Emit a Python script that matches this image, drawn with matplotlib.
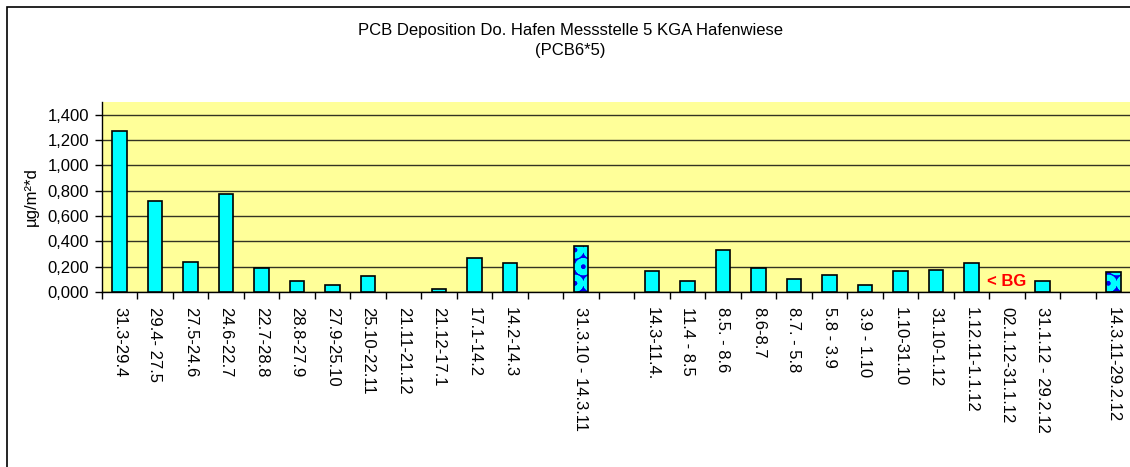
import matplotlib
matplotlib.use("Agg")
import matplotlib.pyplot as plt
from matplotlib.patches import Rectangle
import numpy as np

plt.rcParams['font.family'] = ['Liberation Sans', 'DejaVu Sans']
plt.rcParams['hatch.linewidth'] = 4.0

categories = ["31.3-29.4", "29.4- 27.5", "27.5-24.6", "24.6-22.7", "22.7-28.8",
              "28.8-27.9", "27.9-25.10", "25.10-22.11", "21.11-21.12", "21.12-17.1",
              "17.1-14.2", "14.2-14.3", "", "31.3.10 - 14.3.11", "",
              "14.3-11.4.", "11.4 - 8.5", "8.5. - 8.6", "8.6-8.7", "8.7. - 5.8",
              "5.8 - 3.9", "3.9 - 1.10", "1.10-31.10", "31.10-1.12", "1.12.11-1.1.12",
              "02.1.12-31.1.12", "31.1.12 - 29.2.12", "", "14.3.11-29.2.12"]
values = [1.268, 0.718, 0.238, 0.771, 0.190,
          0.089, 0.058, 0.124, 0.0, 0.025,
          0.268, 0.228, np.nan, 0.362, np.nan,
          0.165, 0.087, 0.335, 0.190, 0.100,
          0.134, 0.057, 0.165, 0.173, 0.226,
          0.0, 0.089, np.nan, 0.155]
# annual summary bars (patterned)
patterned = [13, 28]
bg_index = 25
bg_label = "< BG"
bg_value = 0.085

title_line1 = "PCB Deposition Do. Hafen Messstelle 5 KGA Hafenwiese"
title_line2 = "(PCB6*5)"
ylabel = "µg/m²*d"
yticks = [0.0, 0.2, 0.4, 0.6, 0.8, 1.0, 1.2, 1.4]

W, H = 1130, 467
fig = plt.figure(figsize=(W / 100, H / 100), dpi=100)
fig.patch.set_facecolor('white')

# outer chart frame (clipped at right/bottom in the reference)
fig.patches.append(Rectangle((7 / W, -0.2), 1.5, 1.2 - 7 / H, transform=fig.transFigure,
                             fill=False, edgecolor='black', linewidth=1.2, zorder=0))

ax = fig.add_axes([101.7 / W, (H - 292) / H, 1.0 - 101.7 / W + 0.001, 190 / H])
ax.set_facecolor('#FFFF99')

x = np.arange(len(categories))
vals = np.array(values, dtype=float)
drawn = [i for i in range(len(vals)) if not np.isnan(vals[i]) and vals[i] > 0]
normal = [i for i in drawn if i not in patterned]
pat = [i for i in drawn if i in patterned]
ax.bar(x[normal], vals[normal], width=0.41, color='#00FFFF', edgecolor='black',
       linewidth=1.2, zorder=3)
ax.bar(x[pat], vals[pat], width=0.41, color='#0000EE', edgecolor='#00FFFF',
       hatch='O', linewidth=0, zorder=3)
ax.bar(x[pat], vals[pat], width=0.41, fill=False, edgecolor='black',
       linewidth=1.2, zorder=4)

ax.text(bg_index, bg_value, bg_label, color='#FF0000', fontsize=12, fontweight='bold',
        ha='center', va='center', zorder=5)

ax.set_xlim(-0.5, len(categories) - 0.5)
ax.set_ylim(0, 1.5)
ax.set_yticks(yticks)
ax.set_yticklabels([f"{v:.3f}".replace('.', ',') for v in yticks], fontsize=12)
ax.yaxis.grid(True, color='#333322', linewidth=1.0, zorder=1)
ax.set_axisbelow(True)

ax.set_xticks(np.arange(len(categories) + 1) - 0.5)
ax.set_xticklabels([])
ax.set_xticks(x, minor=True)
ax.set_xticklabels(categories, minor=True, rotation=-90, fontsize=12, va='top', ha='center')
ax.tick_params(axis='x', which='major', length=5, width=1, color='black', direction='out')
ax.tick_params(axis='x', which='minor', length=0, pad=11)
ax.tick_params(axis='y', length=5, width=1, color='black', pad=4)

for s in ['top', 'right']:
    ax.spines[s].set_visible(False)
for s in ['left', 'bottom']:
    ax.spines[s].set_color('black')
    ax.spines[s].set_linewidth(1.0)

ax.set_ylabel(ylabel, fontsize=12)
ax.yaxis.set_label_coords((39 - 101.7) / (W - 101.7), 0.5)

fig.text(570 / W, 1 - 30 / H, title_line1, ha='center', va='center', fontsize=12)
fig.text(570 / W, 1 - 50 / H, title_line2, ha='center', va='center', fontsize=12)

fig.savefig('out.png', dpi=100)
